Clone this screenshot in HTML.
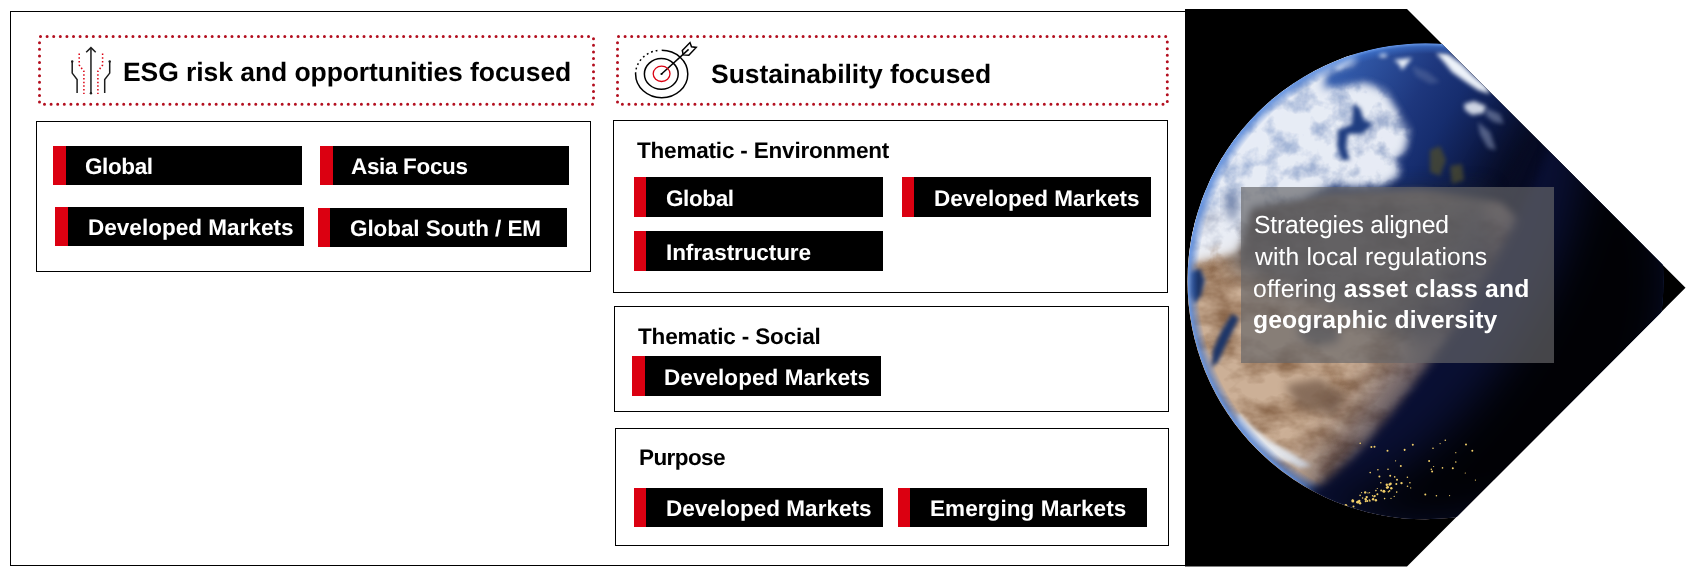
<!DOCTYPE html>
<html>
<head>
<meta charset="utf-8">
<title>ESG strategies</title>
<style>
html,body{margin:0;padding:0;background:#fff;}
body{width:1693px;height:576px;position:relative;overflow:hidden;font-family:"Liberation Sans",sans-serif;color:#000;}
.abs{position:absolute;}
.frame{position:absolute;left:10px;top:11px;width:1176px;height:553px;border:1px solid #000;border-right:none;}
.box{position:absolute;border:1px solid #000;box-sizing:border-box;}
.tag{position:absolute;background:#000;box-sizing:border-box;border-left:13px solid #db0011;}
.t{position:absolute;white-space:nowrap;line-height:1;will-change:transform;text-rendering:geometricPrecision;}
.tw{color:#fff;font-weight:bold;font-size:22.5px;}
.hd{font-weight:bold;font-size:26.5px;}
.ti{font-size:22.5px;font-weight:bold;}
.ov{font-size:24.7px;color:#fff;}
svg{position:absolute;left:0;top:0;overflow:visible;}
</style>
</head>
<body>
<div class="frame"></div>

<!-- dotted headers + icons -->
<svg width="1693" height="576" viewBox="0 0 1693 576">
  <g fill="none" stroke="#b30f1f" stroke-width="3" stroke-linecap="round" stroke-dasharray="0.01 6.59">
    <rect x="39.5" y="36.5" width="554" height="67.8" rx="1" pathLength="1240.8"/>
    <rect x="617.5" y="36.5" width="549.8" height="67.8" rx="1" pathLength="1234.2"/>
  </g>
  <!-- ESG arrows icon -->
  <g fill="none" stroke="#1d1d1d" stroke-width="1.5" stroke-linejoin="miter">
    <path d="M90.95,93.3 L90.95,48"/>
    <path d="M86.2,52.2 L90.95,47.6 L95.7,52.2"/>
    <path d="M72.2,61.4 L72.2,73.1 L77.1,79.6 L77.1,93"/>
    <path d="M109.7,61.4 L109.7,73.1 L104.7,79.6 L104.7,93"/>
  </g>
  <g fill="#1d1d1d">
    <circle cx="90.95" cy="93.3" r="1.2"/>
    <circle cx="72.2" cy="61.4" r="1.2"/>
    <circle cx="109.7" cy="61.4" r="1.2"/>
  </g>
  <g fill="none" stroke="#db0011" stroke-width="1.5" stroke-dasharray="1.5 2.2">
    <path d="M79.2,53.6 L79.2,65 L83.9,71.3 L83.9,94"/>
    <path d="M102.6,53.6 L102.6,65 L97.9,71.3 L97.9,94"/>
  </g>
  <!-- Target icon -->
  <g fill="none" stroke="#000" stroke-width="1.5">
    <path d="M661.7,50.25 A26.1,23.75 0 1 1 635.6,74"/>
    <path d="M635.6,74 A26.1,23.75 0 0 1 659,50.3" stroke-dasharray="1.8 2.9"/>
    <ellipse cx="661.3" cy="73.9" rx="16.9" ry="15.3"/>
    <path d="M661.5,74 L688.6,49.4"/>
    <path d="M682.3,50.5 L690,42.6 L691.5,46.8 L696.2,47.4 L688.8,55.2 L683.2,54.9 Z" stroke-width="1.5" stroke-linejoin="miter"/>
  </g>
  <ellipse cx="661.6" cy="73.8" rx="8.4" ry="7.7" fill="none" stroke="#db0011" stroke-width="1.3"/>
  <circle cx="661.5" cy="74" r="1.1" fill="#000"/>
</svg>

<div class="t hd" id="h1" style="left:123.0px;top:58.5px;letter-spacing:-0.07px;">ESG risk and opportunities focused</div>
<div class="t hd" id="h2" style="left:711.0px;top:60.6px;letter-spacing:-0.05px;">Sustainability focused</div>

<!-- ESG box -->
<div class="box" style="left:36px;top:121px;width:555px;height:151px;"></div>
<div class="tag" style="left:53px;top:146px;width:249px;height:39px;"></div>
<div class="tag" style="left:320px;top:146px;width:249px;height:39px;"></div>
<div class="tag" style="left:55px;top:207px;width:249px;height:39px;"></div>
<div class="tag" style="left:318px;top:208px;width:249px;height:39px;border-left-width:12px;"></div>
<div class="t tw" id="a1" style="left:84.5px;top:155.9px;letter-spacing:-0.4px;">Global</div>
<div class="t tw" id="a2" style="left:351.0px;top:155.7px;letter-spacing:-0.34px;">Asia Focus</div>
<div class="t tw" id="a3" style="left:87.5px;top:216.7px;letter-spacing:0.03px;">Developed Markets</div>
<div class="t tw" id="a4" style="left:349.5px;top:217.7px;letter-spacing:-0.09px;">Global South / EM</div>

<!-- Sustainability boxes -->
<div class="box" style="left:613px;top:120px;width:555px;height:173px;"></div>
<div class="t ti" id="s1" style="left:637.0px;top:140.1px;letter-spacing:-0.19px;">Thematic - Environment</div>
<div class="tag" style="left:634px;top:177px;width:249px;height:40px;border-left-width:12px;"></div>
<div class="tag" style="left:902px;top:177px;width:249px;height:40px;border-left-width:12px;"></div>
<div class="tag" style="left:634px;top:231px;width:249px;height:40px;border-left-width:12px;"></div>
<div class="t tw" id="b1" style="left:665.5px;top:188.0px;letter-spacing:-0.4px;">Global</div>
<div class="t tw" id="b2" style="left:934.0px;top:188.0px;letter-spacing:0.03px;">Developed Markets</div>
<div class="t tw" id="b3" style="left:666.0px;top:242.0px;letter-spacing:-0.1px;">Infrastructure</div>

<div class="box" style="left:614px;top:306px;width:555px;height:106px;"></div>
<div class="t ti" id="s2" style="left:638.0px;top:326.1px;letter-spacing:-0.14px;">Thematic - Social</div>
<div class="tag" style="left:632px;top:356px;width:249px;height:40px;"></div>
<div class="t tw" id="c1" style="left:663.5px;top:367.0px;letter-spacing:0.06px;">Developed Markets</div>

<div class="box" style="left:615px;top:428px;width:554px;height:118px;"></div>
<div class="t ti" id="s3" style="left:638.5px;top:446.9px;letter-spacing:-0.58px;">Purpose</div>
<div class="tag" style="left:634px;top:488px;width:249px;height:39px;border-left-width:12px;"></div>
<div class="tag" style="left:898px;top:488px;width:249px;height:39px;border-left-width:12px;"></div>
<div class="t tw" id="d1" style="left:666.0px;top:497.9px;letter-spacing:0.03px;">Developed Markets</div>
<div class="t tw" id="d2" style="left:930.0px;top:497.9px;letter-spacing:0.08px;">Emerging Markets</div>

<!-- Earth pentagon -->
<svg width="1693" height="576" viewBox="0 0 1693 576" id="earth">
  <defs>
    <clipPath id="pent"><polygon points="1185,9 1407,9 1685.5,287.75 1407,566.5 1185,566.5"/></clipPath>
    <clipPath id="gc"><circle cx="1425.5" cy="281.3" r="238"/></clipPath>
    <filter id="fb1" x="-20%" y="-20%" width="140%" height="140%" color-interpolation-filters="sRGB"><feGaussianBlur stdDeviation="0.6"/></filter>
    <filter id="fb2" x="-20%" y="-20%" width="140%" height="140%" color-interpolation-filters="sRGB"><feGaussianBlur stdDeviation="2"/></filter>
    <filter id="fb5" x="-20%" y="-20%" width="140%" height="140%" color-interpolation-filters="sRGB"><feGaussianBlur stdDeviation="5"/></filter>
    <filter id="fb10" x="-30%" y="-30%" width="160%" height="160%" color-interpolation-filters="sRGB"><feGaussianBlur stdDeviation="10"/></filter>
    <filter id="fb22" x="-40%" y="-40%" width="180%" height="180%" color-interpolation-filters="sRGB"><feGaussianBlur stdDeviation="22"/></filter>
    <filter id="cl" x="-10%" y="-10%" width="120%" height="120%" color-interpolation-filters="sRGB">
      <feGaussianBlur in="SourceGraphic" stdDeviation="4" result="g"/>
      <feTurbulence type="fractalNoise" baseFrequency="0.045" numOctaves="4" seed="11" result="n"/>
      <feColorMatrix in="n" type="matrix" values="0 0 0 0 1  0 0 0 0 1  0 0 0 0 1  2.8 0 0 0 -0.6" result="na"/>
      <feComposite in="g" in2="na" operator="in"/>
    </filter>
    <filter id="ld" x="-10%" y="-10%" width="120%" height="120%" color-interpolation-filters="sRGB">
      <feGaussianBlur in="SourceGraphic" stdDeviation="5" result="g"/>
      <feTurbulence type="fractalNoise" baseFrequency="0.025 0.04" numOctaves="4" seed="5" result="n"/>
      <feColorMatrix in="n" type="matrix" values="0 0 0 0 0.52  0 0 0 0 0.38  0 0 0 0 0.27  0 2.0 0 0 -0.78" result="na"/>
      <feComposite in="na" in2="g" operator="in" result="sh"/>
      <feMerge><feMergeNode in="g"/><feMergeNode in="sh"/></feMerge>
    </filter>
    <linearGradient id="ocean" gradientUnits="userSpaceOnUse" x1="1223.7" y1="155.2" x2="1627.3" y2="407.4">
      <stop offset="0" stop-color="#3f70c4"/>
      <stop offset="0.124" stop-color="#325aaa"/>
      <stop offset="0.277" stop-color="#1e377d"/>
      <stop offset="0.353" stop-color="#162d6e"/>
      <stop offset="0.439" stop-color="#0e1c4b"/>
      <stop offset="0.527" stop-color="#060a1e"/>
      <stop offset="0.62" stop-color="#02030a"/>
    </linearGradient>
    <radialGradient id="limb" gradientUnits="userSpaceOnUse" cx="1425.5" cy="281.3" r="238">
      <stop offset="0.955" stop-color="#3a6cc8" stop-opacity="0"/>
      <stop offset="0.985" stop-color="#4278d2" stop-opacity="0.6"/>
      <stop offset="1" stop-color="#6a9ae8" stop-opacity="1"/>
    </radialGradient>
  </defs>
  <g clip-path="url(#pent)">
    <rect x="1185" y="9" width="510" height="560" fill="#000"/>
    <g clip-path="url(#gc)">
      <circle cx="1425.5" cy="281.3" r="238" fill="url(#ocean)"/>
      <!-- land mass -->
      <path d="M1150,228 L1215,214 L1260,205 L1330,197 L1420,194 L1500,205 L1560,260 L1560,420 L1480,560 L1150,560 Z" fill="#bfa38a" filter="url(#fb5)"/>
      <g filter="url(#ld)">
        <path d="M1150,228 L1215,214 L1260,205 L1330,197 L1420,194 L1500,205 L1560,260 L1560,420 L1480,560 L1150,560 Z" fill="#ccb097"/>
      </g>
      <!-- seas inside land -->
      <g filter="url(#fb2)" fill="#1c3568">
        <path d="M1232,314 L1239,318 L1228,340 L1218,362 L1211,368 L1213,350 L1222,330 Z"/>
        <path d="M1190,272 L1200,268 L1205,280 L1201,296 L1194,304 L1190,292 Z"/>
      </g>
      <!-- darker terrain / seas under the caption box -->
      <path d="M1232,188 L1490,188 L1490,300 L1420,345 L1340,310 L1290,292 L1232,268 Z" fill="#1c2434" opacity="0.62" filter="url(#fb10)"/>
      <path d="M1298,322 L1318,316 L1340,328 L1338,342 L1316,346 L1300,338 Z" fill="#1c2434" opacity="0.6" filter="url(#fb5)"/>
      <!-- dark patch on land -->
      <path d="M1285,385 L1320,378 L1345,395 L1335,415 L1300,410 Z" fill="#6b5242" opacity="0.7" filter="url(#fb5)"/>
      <!-- clouds -->
      <path d="M1150,262 L1160,200 L1230,100 L1290,50 L1352,30 L1354,62 L1325,72 L1322,90 L1365,84 L1384,92 L1395,110 L1408,130 L1404,150 L1394,160 L1400,173 L1380,186 L1330,184 L1300,198 L1250,206 L1240,240 L1205,252 Z" fill="#b9c6de" opacity="0.85" filter="url(#fb5)"/>
      <g filter="url(#cl)">
        <path d="M1150,270 L1160,200 L1230,100 L1290,50 L1352,30 L1354,62 L1325,72 L1322,90 L1365,84 L1384,92 L1395,110 L1408,130 L1404,150 L1394,160 L1400,173 L1380,186 L1330,184 L1300,198 L1250,206 L1238,252 L1200,262 Z" fill="#eef2f8" opacity="0.9"/>
      </g>
      <path d="M1224,194 L1236,190 L1240,204 L1236,222 L1227,218 Z" fill="#4a5f8e" opacity="0.6" filter="url(#fb5)"/>
      <!-- dark inlet inside the white mass -->
      <path d="M1353,104 L1360,108 L1364,120 L1373,124 L1362,134 L1348,134 L1346,148 L1350,160 L1342,160 L1337,146 L1338,130 L1352,124 Z" fill="#1f3d80" filter="url(#fb2)"/>
      <!-- small clouds over the ocean -->
      <g fill="#eef3fa" filter="url(#fb2)">
        <path d="M1352,58 L1338,70 L1334,68 L1348,55 Z"/>
        <ellipse cx="1383" cy="55" rx="4" ry="2"/>
        <path d="M1394,60 L1412,58 L1407,64 L1402,70 L1399,64 Z"/>
        <path d="M1436,53 L1448,54 L1462,64 L1474,76 L1486,86 L1490,94 L1478,90 L1466,82 L1452,72 L1444,62 Z"/>
        <path d="M1464,104 L1474,101 L1486,106 L1484,113 L1472,115 L1465,110 Z" opacity="0.85"/>
      </g>
      <g fill="#8e9bbb" filter="url(#fb2)" opacity="0.55">
        <path d="M1486,108 L1500,114 L1504,124 L1494,122 L1486,116 Z"/>
        <path d="M1478,122 L1490,132 L1496,150 L1488,148 L1480,134 Z"/>
        <path d="M1412,66 L1428,72 L1440,82 L1430,84 L1416,76 Z" opacity="0.5"/>
      </g>
      <!-- limb clouds lower-left -->
      <path d="M1238,412 L1250,424 L1268,440 L1290,452 L1312,466 L1300,468 L1272,456 L1250,440 L1236,424 Z" fill="#e8eef6" opacity="0.9" filter="url(#fb2)"/>
      <!-- small islands -->
      <path d="M1430,150 L1440,146 L1446,160 L1440,176 L1430,172 Z M1450,166 L1462,164 L1464,180 L1452,184 Z" fill="#4a4a30" opacity="0.8" filter="url(#fb2)"/>
      <circle cx="1425.5" cy="281.3" r="238" fill="url(#limb)"/>
      <!-- night side -->
      <path d="M1295.1,489.9 A246,20 122.00 0 0 1555.9,72.7 A246,246 0 0 1 1295.1,489.9 Z" fill="#0a1034" opacity="0.6" filter="url(#fb22)"/>
      <path d="M1295.1,489.9 A246,48.6 122.00 0 0 1555.9,72.7 A246,246 0 0 1 1295.1,489.9 Z" fill="#0a1034" opacity="1" filter="url(#fb5)"/>
      <path d="M1295.1,489.9 A246,110 122.00 0 0 1555.9,72.7 A246,246 0 0 1 1295.1,489.9 Z" fill="#000" opacity="0.9" filter="url(#fb22)"/>
      <g fill="#f2cf6a" filter="url(#fb1)"><circle cx="1365.7" cy="501.2" r="1.0"/><circle cx="1360.1" cy="503.3" r="1.2"/><circle cx="1390.6" cy="483.7" r="1.2"/><circle cx="1365.9" cy="499.6" r="1.0"/><circle cx="1401.5" cy="483.1" r="1.2"/><circle cx="1391.3" cy="488.2" r="1.2"/><circle cx="1352.6" cy="500.2" r="1.0"/><circle cx="1359.3" cy="500.9" r="1.2"/><circle cx="1351.1" cy="509.4" r="1.2"/><circle cx="1389.6" cy="484.5" r="1.2"/><circle cx="1374.0" cy="496.8" r="0.8"/><circle cx="1345.8" cy="505.5" r="1.5"/><circle cx="1388.4" cy="491.7" r="0.8"/><circle cx="1373.1" cy="499.2" r="1.2"/><circle cx="1357.1" cy="502.2" r="1.0"/><circle cx="1396.3" cy="483.9" r="1.0"/><circle cx="1360.1" cy="495.4" r="0.8"/><circle cx="1369.4" cy="500.0" r="0.8"/><circle cx="1375.9" cy="500.3" r="1.2"/><circle cx="1387.8" cy="487.2" r="1.2"/><circle cx="1369.9" cy="500.9" r="0.8"/><circle cx="1367.3" cy="501.0" r="1.0"/><circle cx="1362.6" cy="498.0" r="0.8"/><circle cx="1366.7" cy="497.1" r="1.2"/><circle cx="1397.0" cy="479.7" r="1.0"/><circle cx="1372.6" cy="495.8" r="0.8"/><circle cx="1380.8" cy="482.8" r="0.8"/><circle cx="1375.9" cy="490.6" r="0.8"/><circle cx="1352.8" cy="501.1" r="1.5"/><circle cx="1383.9" cy="491.3" r="1.5"/><circle cx="1374.8" cy="495.9" r="1.0"/><circle cx="1381.2" cy="490.4" r="1.0"/><circle cx="1353.5" cy="506.5" r="1.0"/><circle cx="1387.0" cy="487.6" r="1.2"/><circle cx="1357.9" cy="502.1" r="1.5"/><circle cx="1394.7" cy="476.9" r="0.8"/><circle cx="1377.4" cy="494.3" r="1.0"/><circle cx="1365.2" cy="492.4" r="1.2"/><circle cx="1386.8" cy="484.7" r="1.2"/><circle cx="1365.5" cy="499.1" r="1.2"/><circle cx="1475.4" cy="480.1" r="0.6"/><circle cx="1407.4" cy="477.2" r="0.8"/><circle cx="1440.1" cy="443.6" r="0.6"/><circle cx="1442.5" cy="467.9" r="0.8"/><circle cx="1449.6" cy="495.6" r="0.6"/><circle cx="1455.8" cy="452.7" r="0.6"/><circle cx="1361.6" cy="492.6" r="0.6"/><circle cx="1407.5" cy="486.2" r="0.8"/><circle cx="1465.3" cy="473.0" r="0.6"/><circle cx="1379.4" cy="476.5" r="1.0"/><circle cx="1452.8" cy="468.3" r="1.0"/><circle cx="1412.8" cy="444.7" r="1.0"/><circle cx="1431.3" cy="469.3" r="0.8"/><circle cx="1433.0" cy="448.3" r="0.8"/><circle cx="1369.6" cy="492.7" r="0.6"/><circle cx="1395.6" cy="460.8" r="0.6"/><circle cx="1370.2" cy="472.6" r="0.8"/><circle cx="1384.6" cy="498.6" r="0.8"/><circle cx="1388.0" cy="469.2" r="0.8"/><circle cx="1371.4" cy="446.9" r="1.0"/><circle cx="1455.8" cy="462.0" r="0.8"/><circle cx="1409.9" cy="482.7" r="0.8"/><circle cx="1368.0" cy="492.9" r="0.6"/><circle cx="1436.4" cy="495.8" r="0.8"/><circle cx="1410.7" cy="487.9" r="0.6"/><circle cx="1404.6" cy="449.8" r="1.0"/><circle cx="1377.9" cy="469.7" r="0.8"/><circle cx="1391.0" cy="498.4" r="0.6"/><circle cx="1445.3" cy="440.3" r="0.8"/><circle cx="1374.5" cy="446.7" r="1.0"/><circle cx="1432.1" cy="471.6" r="1.0"/><circle cx="1389.5" cy="490.9" r="0.8"/><circle cx="1387.5" cy="450.8" r="1.0"/><circle cx="1360.2" cy="443.2" r="0.8"/><circle cx="1425.3" cy="494.5" r="1.0"/><circle cx="1396.7" cy="492.1" r="0.8"/><circle cx="1433.6" cy="466.5" r="0.6"/><circle cx="1390.2" cy="475.8" r="1.0"/><circle cx="1400.8" cy="466.0" r="1.0"/><circle cx="1377.3" cy="488.5" r="0.6"/><circle cx="1394.2" cy="496.4" r="0.6"/><circle cx="1429.1" cy="461.0" r="1.0"/><circle cx="1466.0" cy="444.6" r="1.0"/><circle cx="1472.3" cy="450.8" r="1.0"/><circle cx="1404.6" cy="450.5" r="0.6"/></g>
    </g>
  </g>
</svg>
<div class="abs" style="left:1241px;top:187px;width:313px;height:176px;background:rgba(102,101,104,0.68);"></div>
<div class="t ov" id="e1" style="left:1253.5px;top:214.0px;letter-spacing:-0.15px;">Strategies aligned</div>
<div class="t ov" id="e2" style="left:1254.5px;top:245.9px;letter-spacing:0.14px;">with local regulations</div>
<div class="t ov" id="e3" style="left:1253.0px;top:277.9px;letter-spacing:0.22px;">offering <b>asset class and</b></div>
<div class="t ov" id="e4" style="left:1253.0px;top:309.3px;letter-spacing:0.15px;"><b>geographic diversity</b></div>
</body>
</html>
